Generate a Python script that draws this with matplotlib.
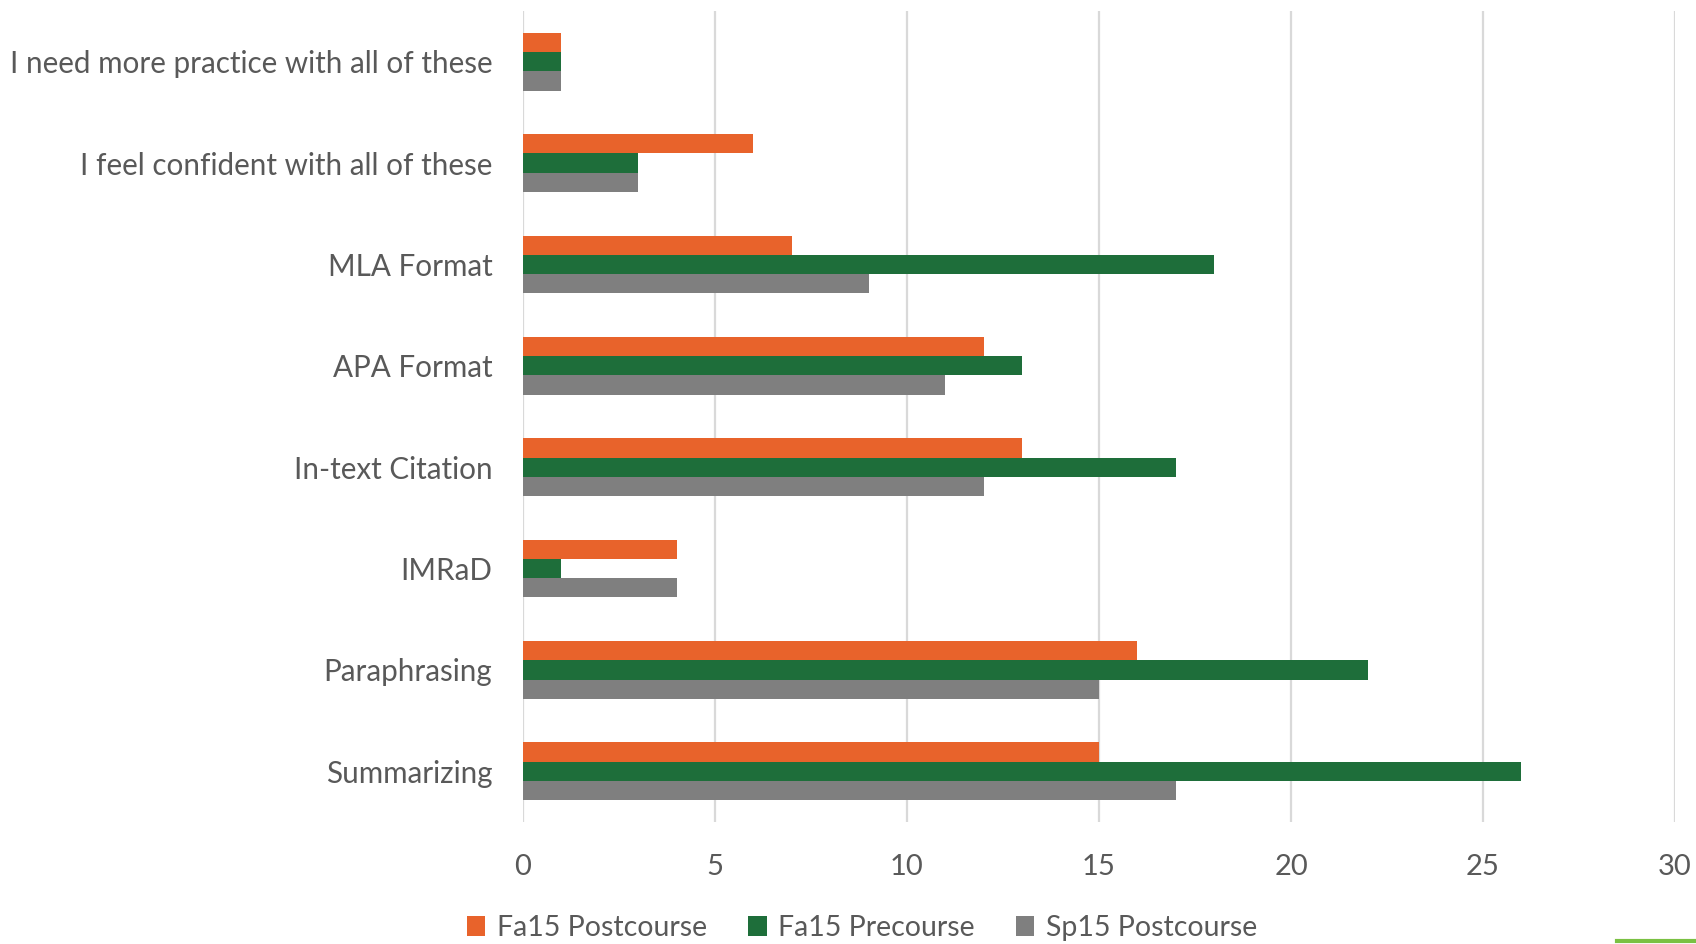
import numpy as np
import matplotlib
matplotlib.use("Agg")
import matplotlib.pyplot as plt
from matplotlib.lines import Line2D

# survey categories, listed bottom to top
categories = ["Summarizing", "Paraphrasing", "IMRaD", "In-text Citation",
              "APA Format", "MLA Format", "I feel confident with all of these",
              "I need more practice with all of these"]
fa15_post = [15, 16, 4, 13, 12, 7, 6, 1]
fa15_pre = [26, 22, 1, 17, 13, 18, 3, 1]
sp15_post = [17, 15, 4, 12, 11, 9, 3, 1]

series = [("Fa15 Postcourse", fa15_post, "#E8632B"),
          ("Fa15 Precourse", fa15_pre, "#1E6E3A"),
          ("Sp15 Postcourse", sp15_post, "#7F7F7F")]

plt.rcParams['font.family'] = ['Lato', 'DejaVu Sans']
txt = "#595959"

fig = plt.figure(figsize=(16.96, 9.44), dpi=100)
ax = fig.add_axes([523/1696, 1 - 822/944, (1675-523)/1696, (822-11)/944])

y = np.arange(len(categories))
h = 0.19
for i, (name, vals, col) in enumerate(series):
    ax.barh(y + (1 - i) * h, vals, height=h, color=col, label=name, zorder=3)

ax.set_xlim(0, 30)
ax.set_ylim(-0.5, len(categories) - 0.5)
ax.set_xticks(range(0, 31, 5))
ax.set_yticks(y)
ax.set_yticklabels(categories)
ax.grid(axis='x', color="#D9D9D9", linewidth=1.6, zorder=0)
for s in ax.spines.values():
    s.set_visible(False)
ax.tick_params(axis='y', length=0, pad=22, labelsize=21.3, labelcolor=txt)
ax.tick_params(axis='x', length=0, pad=23, labelsize=21, labelcolor=txt)

leg = fig.legend(loc='center', bbox_to_anchor=(862/1696, 1 - 928/944), ncol=3,
                 frameon=False, fontsize=20.5, labelcolor=txt,
                 handlelength=0.65, handleheight=0.65, handletextpad=0.4,
                 columnspacing=1.45)

# thin accent stroke in the lower right corner
fig.add_artist(Line2D([1617/1696, 1], [1 - 941/944, 1 - 941/944],
                      color="#7AC143", linewidth=3, transform=fig.transFigure))

fig.savefig("out.png", dpi=100, facecolor="white")
